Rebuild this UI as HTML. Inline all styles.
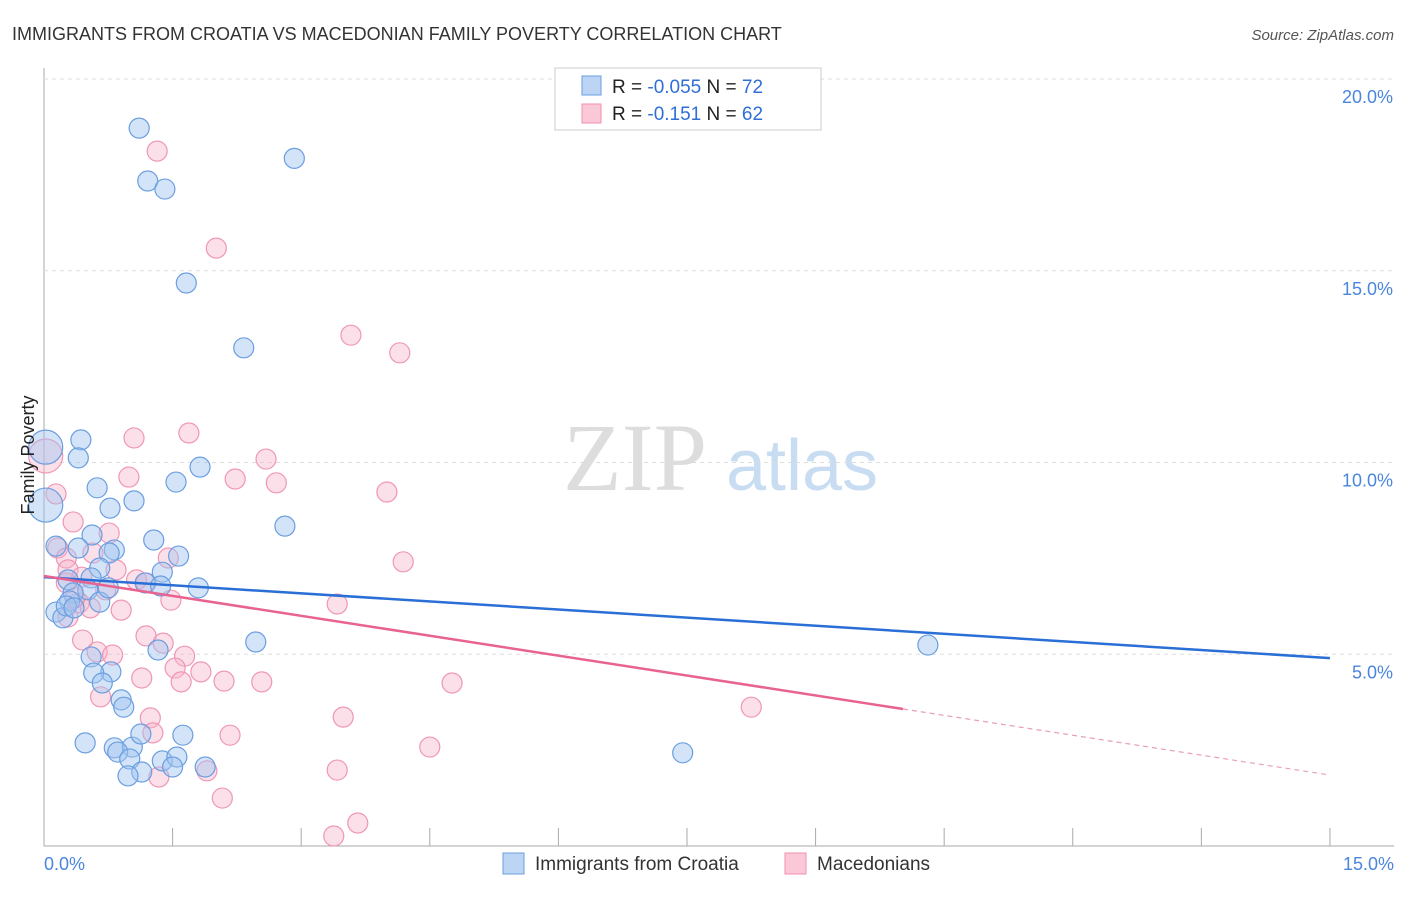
<!DOCTYPE html>
<html><head><meta charset="utf-8"><style>
body{margin:0;background:#fff;font-family:"Liberation Sans",sans-serif}
svg text{font-family:"Liberation Sans",sans-serif}
</style></head><body>
<svg id="c" width="1406" height="892">
<text x="12" y="40" font-size="18" fill="#333">IMMIGRANTS FROM CROATIA VS MACEDONIAN FAMILY POVERTY CORRELATION CHART</text>
<text x="1394" y="40" font-size="15" fill="#555" text-anchor="end" font-style="italic">Source: ZipAtlas.com</text>
<g>
<text x="635" y="490" font-size="96" fill="#ddd" text-anchor="middle" font-family="Liberation Serif" style="font-family:'Liberation Serif',serif">ZIP</text>
<text x="802" y="490" font-size="72" fill="#c8dcf2" text-anchor="middle">atlas</text></g>
<g id="grid"></g><g id="pts"></g><g id="lines"></g>
<text transform="translate(34,455) rotate(-90)" font-size="18" fill="#222" text-anchor="middle">Family Poverty</text>
<g>
<rect x="555" y="68" width="266" height="62" fill="#fff" stroke="#ccc"/>
<rect x="582" y="76" width="19" height="19" fill="#bcd5f5" stroke="#6a9ee0"/>
<rect x="582" y="104" width="19" height="19" fill="#fbc8d8" stroke="#f08fae"/>
<text x="612" y="93" font-size="19" fill="#222">R = <tspan fill="#2f6fd6">-0.055</tspan>   N = <tspan fill="#2f6fd6">72</tspan></text>
<text x="612" y="120" font-size="19" fill="#222">R =   <tspan fill="#2f6fd6">-0.151</tspan>   N = <tspan fill="#2f6fd6">62</tspan></text>
</g>
<g>
<rect x="503" y="853" width="21" height="21" fill="#bcd5f5" stroke="#6a9ee0"/>
<text x="535" y="870" font-size="19" fill="#333">Immigrants from Croatia</text>
<rect x="785" y="853" width="21" height="21" fill="#fbc8d8" stroke="#f08fae"/>
<text x="817" y="870" font-size="19" fill="#333">Macedonians</text>
</g>
</svg>
<script>
const yTicks=[5,10,15,20];
const yTickLabels=["5.0%","10.0%","15.0%","20.0%"];
const xTicks=[0,1.5,3,4.5,6,7.5,9,10.5,12,13.5,15];
const croatiaX=[1.11,2.92,1.21,1.41,1.66,2.33,0.43,0.40,0.02,0.62,1.54,1.82,0.77,1.05,0.02,2.81,0.56,1.28,0.14,0.40,0.82,1.57,0.76,0.65,1.38,1.18,1.80,1.36,0.28,0.55,0.51,0.34,0.30,0.65,0.14,0.22,0.26,2.47,1.33,0.55,0.78,0.58,0.68,0.90,0.93,0.48,0.82,1.03,0.86,1.13,1.62,1.00,1.38,1.55,1.88,1.50,1.14,0.98,10.31,7.45,0.75,0.35];
const croatiaY=[18.72,17.93,17.34,17.13,14.68,12.99,10.59,10.12,10.40,9.34,9.49,9.88,8.81,9.00,8.89,8.34,8.11,7.98,7.82,7.77,7.72,7.56,7.64,7.25,7.14,6.86,6.73,6.78,6.94,6.99,6.68,6.60,6.39,6.36,6.10,5.95,6.26,5.32,5.11,4.93,4.54,4.51,4.25,3.81,3.62,2.69,2.56,2.58,2.45,2.92,2.89,2.27,2.22,2.32,2.06,2.06,1.93,1.83,5.24,2.43,6.73,6.21];
const macX=[1.32,2.01,3.58,4.15,1.05,1.69,2.59,2.23,2.71,4.00,0.99,0.02,0.14,0.34,0.76,0.16,0.26,0.57,0.28,0.84,1.08,1.19,0.44,4.19,1.45,3.42,0.41,0.90,1.48,0.28,0.45,0.62,0.80,1.19,1.39,1.64,1.53,1.83,1.60,1.14,2.10,2.54,4.76,0.66,8.25,1.24,1.27,2.17,3.49,4.50,3.42,1.34,1.90,2.08,3.38,3.66,0.26,0.54,0.36,0.72];
const macY=[18.12,15.59,13.32,12.86,10.64,10.77,10.09,9.57,9.47,9.23,9.62,10.17,9.18,8.45,8.16,7.77,7.51,7.64,7.20,7.20,6.94,6.86,7.01,7.41,7.51,6.31,6.34,6.15,6.41,5.97,5.37,5.06,4.98,5.48,5.29,4.95,4.64,4.54,4.28,4.38,4.30,4.28,4.25,3.89,3.62,3.34,2.95,2.89,3.36,2.58,1.98,1.80,1.96,1.25,0.26,0.60,6.86,6.21,6.47,6.68];
const croatiaBig=[8,14];const macBig=[11];
const croatiaTrend=[7.01,4.90];
const macTrend=[7.04,1.85];const macSolidEnd=10.02;
const X=v=>44+v*85.73, Y=v=>846-v*38.35;
const NS='http://www.w3.org/2000/svg';
function mk(p,t,a){const e=document.createElementNS(NS,t);for(const k in a)e.setAttribute(k,a[k]);p.appendChild(e);return e;}
const g=document.getElementById('grid'),pts=document.getElementById('pts'),ln=document.getElementById('lines');
let ax=mk(g,'line',{x1:44,y1:68,x2:44,y2:846,stroke:'#aaa'});

let bx=mk(g,'line',{x1:44,y1:846,x2:1394,y2:846,stroke:'#aaa'});

yTicks.forEach((t,i)=>{
 const l=mk(g,'line',{x1:44,y1:Y(t),x2:1394,y2:Y(t),stroke:'#ddd','stroke-dasharray':'4,4'});
 
 const tx=mk(g,'text',{x:1393,y:Y(t)+24,'font-size':18,fill:'#4a86dd','text-anchor':'end'});tx.textContent=yTickLabels[i];
 
});
xTicks.forEach(t=>{const l=mk(g,'line',{x1:X(t),y1:828,x2:X(t),y2:846,stroke:'#aaa'});
 });
let t0=mk(g,'text',{x:44,y:870,'font-size':18,fill:'#4a86dd'});t0.textContent='0.0%';

let t1=mk(g,'text',{x:1394,y:870,'font-size':18,fill:'#4a86dd','text-anchor':'end'});t1.textContent='15.0%';

function dots(xs,ys,big,fill,st,name){xs.forEach((x,i)=>{
 const c=mk(pts,'circle',{cx:X(x),cy:Y(ys[i]),r:big.includes(i)?17:10,fill:fill,stroke:st,'stroke-width':1.2});
 });}
dots(macX,macY,macBig,'rgba(246,178,200,0.4)','#f096b4','macedonians-point');
dots(croatiaX,croatiaY,croatiaBig,'rgba(160,196,240,0.45)','#6a9ee0','croatia-point');
const lb=mk(ln,'line',{x1:X(0),y1:Y(croatiaTrend[0]),x2:X(15),y2:Y(croatiaTrend[1]),stroke:'#2a6fd6','stroke-width':2.5});

const my=x=>macTrend[0]+(macTrend[1]-macTrend[0])*x/15;
const lp=mk(ln,'line',{x1:X(0),y1:Y(macTrend[0]),x2:X(macSolidEnd),y2:Y(my(macSolidEnd)),stroke:'#e8638f','stroke-width':2.5});

const lpd=mk(ln,'line',{x1:X(macSolidEnd),y1:Y(my(macSolidEnd)),x2:X(15),y2:Y(macTrend[1]),stroke:'#e8a0b8','stroke-width':1.2,'stroke-dasharray':'5,4'});

</script>
</body></html>
